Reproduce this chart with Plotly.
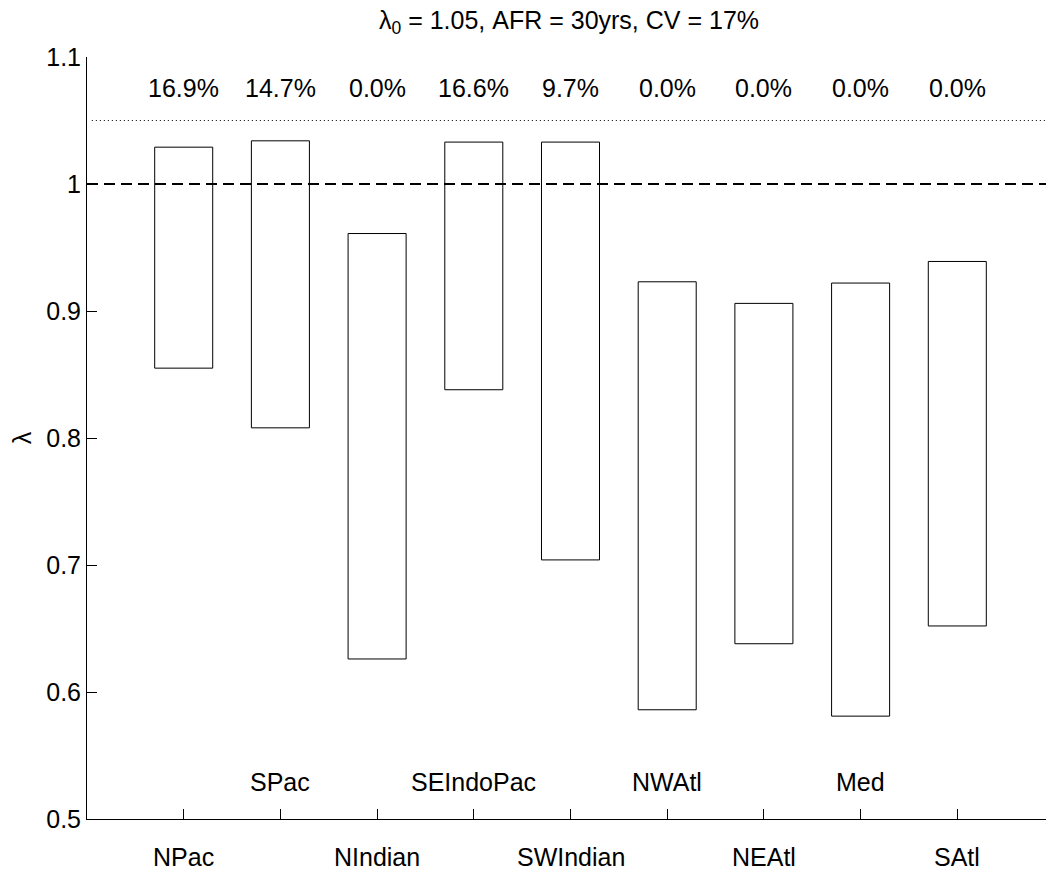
import plotly.graph_objects as go

regions = ["NPac", "SPac", "NIndian", "SEIndoPac", "SWIndian", "NWAtl", "NEAtl", "Med", "SAtl"]
low = [0.855, 0.808, 0.626, 0.838, 0.704, 0.586, 0.638, 0.581, 0.652]
high = [1.029, 1.034, 0.961, 1.033, 1.033, 0.923, 0.906, 0.922, 0.939]
pct = ["16.9%", "14.7%", "0.0%", "16.6%", "9.7%", "0.0%", "0.0%", "0.0%", "0.0%"]
ref_line = 1.0
lambda0 = 1.05
yticks = [0.5, 0.6, 0.7, 0.8, 0.9, 1.0, 1.1]
ytick_text = ["0.5", "0.6", "0.7", "0.8", "0.9", "1", "1.1"]

xpos = list(range(1, len(regions) + 1))
FONT = "Liberation Sans, Arial, sans-serif"
FS = 25

fig = go.Figure()
fig.add_trace(go.Bar(
    x=xpos, y=[h - l for h, l in zip(high, low)], base=low, width=0.6,
    marker=dict(color="white", line=dict(color="black", width=1)),
    showlegend=False, hoverinfo="skip"))
fig.add_trace(go.Scatter(x=[0, 10], y=[ref_line, ref_line], mode="lines",
                         line=dict(color="black", width=2, dash="11px,6px"), showlegend=False))
fig.add_trace(go.Scatter(x=[0.05, 10], y=[lambda0, lambda0], mode="lines",
                         line=dict(color="black", width=1, dash="1px,3px"), showlegend=False))

for x, p in zip(xpos, pct):
    fig.add_annotation(x=x, y=1.0756, xref="x", yref="y", text=p, showarrow=False,
                       font=dict(size=FS, color="black", family=FONT))
for i, (x, r) in enumerate(zip(xpos, regions)):
    if i % 2 == 0:
        fig.add_annotation(x=x, y=-0.05, xref="x", yref="paper", text=r, showarrow=False,
                           yanchor="middle", font=dict(size=FS, color="black", family=FONT))
    else:
        fig.add_annotation(x=x, y=0.529, xref="x", yref="y", text=r, showarrow=False,
                           font=dict(size=FS, color="black", family=FONT))

fig.update_layout(
    width=1046, height=866,
    margin=dict(l=79, r=0, t=49, b=55),
    paper_bgcolor="white", plot_bgcolor="white",
    font=dict(family=FONT, color="black", size=FS),
    title=dict(text="λ<sub>0</sub> = 1.05, AFR = 30yrs, CV = 17%", x=561 / 1046, xanchor="center",
               y=1 - 12 / 866, yanchor="middle", font=dict(size=FS, family=FONT, color="black")),
    barmode="overlay",
)
fig.update_xaxes(range=[0, 10], tickvals=xpos, showticklabels=False, ticks="inside",
                 ticklen=10, tickcolor="black", showline=True, linecolor="black", linewidth=1,
                 showgrid=False, zeroline=False, mirror=False)
fig.update_yaxes(range=[0.5, 1.1], tickvals=yticks, ticktext=ytick_text, ticks="inside",
                 ticklen=10, tickcolor="black", showline=True, linecolor="black", linewidth=1,
                 showgrid=False, zeroline=False, mirror=False,
                 title=dict(text="λ", font=dict(size=FS, family=FONT), standoff=10),
                 tickfont=dict(size=FS, family=FONT))

fig.write_html("out.html")
